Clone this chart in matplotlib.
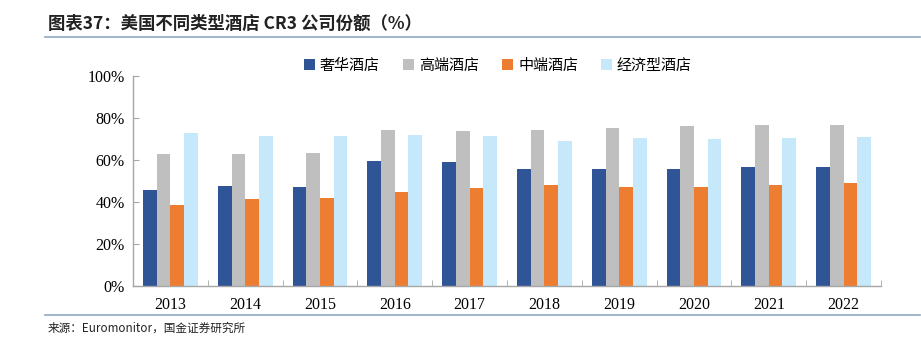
import matplotlib
matplotlib.use("Agg")
import matplotlib.pyplot as plt
import numpy as np

years = ["2013", "2014", "2015", "2016", "2017", "2018", "2019", "2020", "2021", "2022"]
series_names = ["奢华酒店", "高端酒店", "中端酒店", "经济型酒店"]
luxury = [45.6, 47.7, 46.9, 59.6, 58.8, 55.5, 55.5, 55.8, 56.7, 56.7]
upscale = [62.7, 63.0, 63.3, 74.2, 73.8, 74.1, 75.3, 76.2, 76.5, 76.6]
midscale = [38.3, 41.2, 41.8, 44.7, 46.6, 47.9, 47.1, 47.1, 48.2, 49.1]
economy = [72.8, 71.5, 71.5, 72.0, 71.2, 69.0, 70.3, 70.1, 70.4, 70.9]
yticks = [0, 20, 40, 60, 80, 100]
title = "图表37：美国不同类型酒店 CR3 公司份额（%）"
source = "来源：Euromonitor，国金证券研究所"

colors = ["#2F5597", "#BFBFBF", "#ED7D31", "#C5E8FB"]
cjk = ["Noto Sans CJK SC", "DejaVu Sans"]
serif = ["Liberation Serif", "DejaVu Serif"]

fig = plt.figure(figsize=(9.21, 3.44), dpi=100)
ax = fig.add_axes([133/921, 1-285.7/344, (881-133)/921, (285.7-76)/344])

x = np.arange(len(years))
w = 0.183
data = [luxury, upscale, midscale, economy]
for i, (vals, name, c) in enumerate(zip(data, series_names, colors)):
    ax.bar(x + (i - 1.5) * w, vals, width=w, color=c, label=name, zorder=2)

ax.set_xlim(-0.5, len(years) - 0.5)
ax.set_ylim(0, 100)
ax.set_yticks(yticks)
ax.set_yticklabels([f"{v}%" for v in yticks], family=serif, fontsize=11.5)
ax.set_xticks(x)
ax.set_xticklabels(years, family=serif, fontsize=11.5)
ax.tick_params(axis="x", which="major", length=0, pad=8)
ax.set_xticks(np.arange(-0.5, len(years)), minor=True)
ax.tick_params(axis="x", which="minor", direction="in", length=4, color="#A6A6A6")
ax.tick_params(axis="y", direction="in", length=4, color="#A6A6A6", pad=6)
for s in ["top", "right"]:
    ax.spines[s].set_visible(False)
for s in ["left", "bottom"]:
    ax.spines[s].set_color("#A6A6A6")
    ax.spines[s].set_linewidth(1.0)

leg = fig.legend(loc="center left", bbox_to_anchor=(290/921, 1-66/344), ncol=4,
                 frameon=False, prop={"family": cjk, "size": 10.8},
                 handlelength=0.75, handleheight=0.75, handletextpad=0.35,
                 columnspacing=1.5)

fig.text(48/921, 1-24/344, title, family=cjk, fontsize=12.5, fontweight="bold",
         fontstyle="italic", va="center", ha="left", color="#222222")
fig.add_artist(plt.Line2D([45/921, 920/921], [1-37/344, 1-37/344], color="#8EA9C1", lw=1.2))
fig.add_artist(plt.Line2D([45/921, 920/921], [1-315/344, 1-315/344], color="#8EA9C1", lw=1.2))
fig.text(48/921, 1-328/344, source, family=cjk, fontsize=8.4, va="center", ha="left", color="#222222")

fig.savefig("out.png", dpi=100)
